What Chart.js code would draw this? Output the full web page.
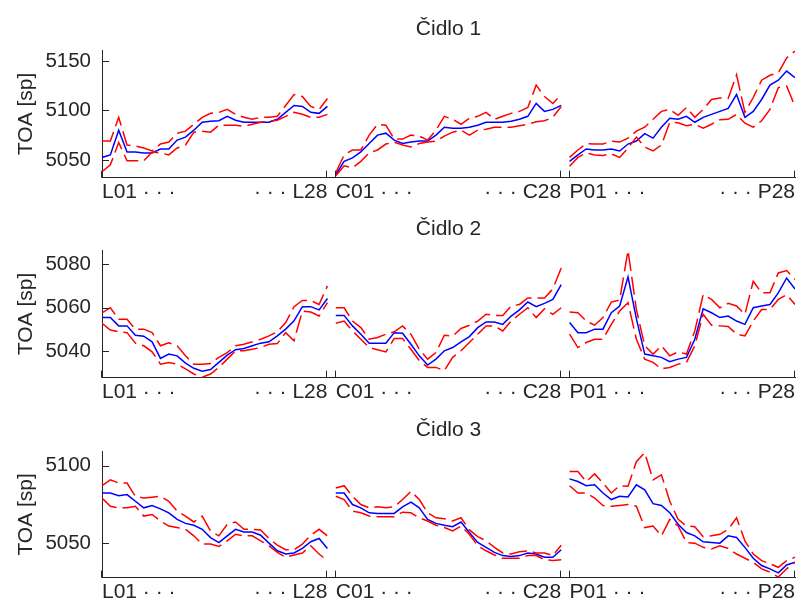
<!DOCTYPE html>
<html>
<head>
<meta charset="utf-8">
<script src="https://cdn.jsdelivr.net/npm/chart.js@4.4.1/dist/chart.umd.min.js"></script>
<style>
  html, body { margin: 0; padding: 0; background: #ffffff; }
  #wrap { position: relative; width: 797px; height: 601px; overflow: hidden; }
  .pane { position: absolute; left: 0; width: 797px; height: 201px; }
  .pane canvas { display: block; }
</style>
</head>
<body>
<div id="wrap">
  <div class="pane" style="top:0px"><canvas id="c1" width="797" height="201"></canvas></div>
  <div class="pane" style="top:200px"><canvas id="c2" width="797" height="201"></canvas></div>
  <div class="pane" style="top:400px"><canvas id="c3" width="797" height="201"></canvas></div>
</div>
<script>
// Measurement groups (28 positions each) and their tick labels
const groups = ['L', 'C', 'P'];
const groupSize = 28;
const startLabels = ['L01 \u00b7 \u00b7 \u00b7', 'C01 \u00b7 \u00b7 \u00b7', 'P01 \u00b7 \u00b7 \u00b7'];
const endLabels = ['\u00b7 \u00b7 \u00b7 L28', '\u00b7 \u00b7 \u00b7 C28', '\u00b7 \u00b7 \u00b7 P28'];
const xTickValues = [1, 28, 29, 56, 57, 84];

// Sensor titles, y ticks and y limits
const titles = ['\u010cidlo 1', '\u010cidlo 2', '\u010cidlo 3'];
const yAxisTitle = 'TOA [sp]';
const yTicks = [[5050, 5100, 5150], [5040, 5060, 5080], [5050, 5100]];
const yMin = [5032, 5028, 5028];
const yMax = [5161, 5086.4, 5109.4];

// Čidlo 1: mean and upper/lower bounds (L01..L28, C01..C28, P01..P28)
const s1Mean = [
  5052.5, 5055, 5080, 5058, 5058, 5057, 5057, 5061, 5061, 5070, 5073, 5080, 5088, 5089, 5089.5, 5094, 5090, 5088, 5088, 5088, 5088, 5091, 5098, 5105, 5104, 5098, 5097, 5104,
  5035, 5048.5, 5052, 5058, 5066.5, 5075, 5077, 5070, 5066.5, 5068, 5069, 5069, 5075, 5083, 5082, 5082, 5083, 5085, 5088, 5088, 5088, 5089, 5091, 5094, 5107, 5099, 5101, 5105,
  5048.5, 5055, 5061, 5060, 5060, 5061, 5059, 5066, 5069, 5076.5, 5072, 5083, 5092, 5091, 5094, 5088, 5093, 5096, 5099, 5102, 5116, 5093, 5099, 5111, 5125.5, 5130.5, 5139.7, 5133
];
const s1Upper = [
  5069, 5069, 5093, 5065, 5064, 5062, 5059, 5066, 5068, 5077, 5079, 5086, 5093, 5097, 5098, 5101, 5096, 5093, 5091, 5093, 5093, 5094, 5105, 5116, 5114, 5104, 5101, 5112,
  5037, 5055, 5060, 5060, 5075, 5086, 5085, 5071, 5071, 5075, 5074, 5070, 5080, 5094, 5091, 5086, 5092, 5094, 5098, 5091, 5094, 5097, 5099, 5103, 5125.5, 5114, 5107, 5116,
  5052.5, 5060, 5066.5, 5066, 5066, 5069, 5068, 5072, 5079, 5083, 5091, 5099, 5101, 5095, 5103, 5093, 5101, 5111, 5112.5, 5112, 5136, 5098, 5113, 5130.5, 5135.5, 5138, 5153, 5160
];
const s1Lower = [
  5038, 5045, 5067.5, 5049, 5049, 5049, 5058, 5057, 5055, 5062, 5065, 5078, 5079, 5078, 5085, 5085, 5085, 5084, 5086, 5088, 5089, 5090, 5094, 5098, 5096, 5093, 5093, 5096,
  5034, 5044, 5042, 5048.5, 5057, 5060, 5066, 5068, 5065, 5063, 5066.5, 5068, 5069, 5074, 5078, 5080, 5075, 5080, 5081, 5083, 5083, 5083, 5084.5, 5086, 5088.5, 5089.5, 5093, 5104,
  5043.6, 5052.5, 5057, 5055, 5054.5, 5056, 5052.5, 5062, 5073, 5063, 5059, 5065, 5088, 5087.5, 5084.5, 5086, 5082, 5086, 5090.5, 5091, 5096, 5087, 5083, 5089.5, 5101, 5123, 5124.6, 5104
];

// Čidlo 2
const s2Mean = [
  5055.5, 5055.5, 5051.7, 5051.7, 5047.4, 5047, 5044.4, 5036.8, 5038.8, 5038, 5034.7, 5032.3, 5031, 5031.7, 5035, 5038.3, 5040.8, 5041.4, 5042.6, 5043.8, 5044.4, 5047.1, 5050.2, 5054, 5060.5, 5060.5, 5059, 5064.2,
  5056.5, 5056.5, 5051.7, 5047.9, 5043.8, 5043.8, 5043.8, 5048.6, 5048.3, 5043.3, 5038, 5033.8, 5036.5, 5040.3, 5041.8, 5044.4, 5046.8, 5050.9, 5053.5, 5053.5, 5052.4, 5056.2, 5059, 5062.6, 5060.5, 5062, 5063.8, 5070.6,
  5053.2, 5048.6, 5048.6, 5050.2, 5050.2, 5057.7, 5060.8, 5074.1, 5055, 5038.8, 5038, 5037.3, 5035.3, 5036.5, 5037.3, 5045.6, 5059.5, 5057.7, 5055.5, 5056.2, 5053.9, 5052.4, 5060, 5060.8, 5061.5, 5066.8, 5073.6, 5068.6
];
const s2Upper = [
  5057.7, 5060, 5054.7, 5054.7, 5050.2, 5050.2, 5048.6, 5042.6, 5044, 5042.6, 5038, 5034.2, 5034.2, 5034.5, 5037.3, 5039.5, 5042.6, 5043.3, 5044.4, 5045.6, 5047.1, 5049, 5053.2, 5060.5, 5063.3, 5063.3, 5061.5, 5070,
  5060, 5060, 5053.9, 5050.9, 5045.6, 5046.4, 5047.9, 5049, 5051.7, 5047.9, 5041, 5036.5, 5039.5, 5047.4, 5047, 5050.5, 5052, 5053.9, 5057, 5056.5, 5056.5, 5060.8, 5061.5, 5064.5, 5064.5, 5064.5, 5068.6, 5078.2,
  5058, 5057.7, 5053.9, 5052, 5055.5, 5062.6, 5063.5, 5086.2, 5059.2, 5042.6, 5038.8, 5042.6, 5038, 5039.8, 5038.8, 5049.4, 5066, 5063.8, 5060, 5062, 5060.8, 5057, 5072.1, 5066.8, 5066.8, 5075.9, 5077, 5072.9
];
const s2Lower = [
  5052.9, 5049.8, 5049, 5048.6, 5043.8, 5042.6, 5039.8, 5034.2, 5035, 5034.2, 5032, 5029.7, 5028.2, 5029.7, 5032.7, 5036.5, 5040.3, 5040.3, 5041, 5041.8, 5043.3, 5043.6, 5048.6, 5044.9, 5058.5, 5058, 5056.2, 5062.3,
  5052.9, 5053.9, 5049.4, 5045.6, 5041.8, 5040.8, 5039.8, 5045.9, 5045.9, 5041, 5035.8, 5032.7, 5032.7, 5031.2, 5037.3, 5040.3, 5044.1, 5047.9, 5051.7, 5051.7, 5049.4, 5053.9, 5057, 5060, 5055.5, 5059.5, 5057, 5060,
  5047.9, 5041.8, 5044.1, 5045.6, 5045.6, 5052.4, 5058.5, 5062.3, 5045.6, 5036.5, 5035, 5032, 5032.7, 5034.2, 5035, 5042.6, 5057, 5052, 5051.7, 5051.4, 5047.9, 5047.1, 5053.9, 5059.2, 5059.2, 5063.8, 5066, 5061.5
];

// Čidlo 3
const s3Mean = [
  5082.4, 5082.4, 5080.7, 5081.4, 5077.1, 5072.9, 5074.4, 5072.2, 5069.7, 5065.5, 5062.9, 5061.7, 5059.1, 5053.8, 5050.6, 5054.9, 5059.1, 5057.4, 5057.4, 5055.3, 5050.2, 5045.3, 5043.2, 5043.9, 5046.8, 5051.1, 5053.2, 5046.8,
  5082.4, 5082.4, 5075, 5072.9, 5069.7, 5069.3, 5069.3, 5069.3, 5073.5, 5076.5, 5072.9, 5065.5, 5062.9, 5061.7, 5060.8, 5063.8, 5057, 5050.6, 5047.5, 5044.3, 5042.2, 5041.7, 5042.2, 5043.9, 5043.2, 5041.1, 5041.1, 5046,
  5091.5, 5089.8, 5087.1, 5087.7, 5082.4, 5078.2, 5080.3, 5079.9, 5087.7, 5084.5, 5075.6, 5074.4, 5069.7, 5062.3, 5057, 5054.9, 5051.1, 5050.6, 5050.2, 5054.9, 5053.8, 5047.5, 5040.5, 5035.8, 5033.7, 5031.1, 5036.2, 5037.9
];
const s3Upper = [
  5087.1, 5090.9, 5088.8, 5088.8, 5080.3, 5079.2, 5079.7, 5080.3, 5077.1, 5070.8, 5067.6, 5063.8, 5067.6, 5058, 5054.9, 5062.3, 5063.8, 5059.1, 5059.1, 5058.7, 5053.2, 5048.9, 5046, 5046, 5049.6, 5055.3, 5059.1, 5054.9,
  5085.6, 5087.1, 5080.3, 5075, 5072.9, 5073.5, 5072.9, 5073.5, 5078.2, 5083.5, 5078.2, 5069.7, 5066.5, 5065.9, 5064.4, 5066.5, 5058.7, 5054.4, 5051.7, 5047.5, 5043.9, 5043.2, 5044.7, 5045.3, 5043.9, 5043.9, 5042.2, 5048.9,
  5096.2, 5096.2, 5089.8, 5094.7, 5088.8, 5082.4, 5087.1, 5086.7, 5102.5, 5108.3, 5090.9, 5094.1, 5077.1, 5065.5, 5061.2, 5060.8, 5054.4, 5054.9, 5055.9, 5059.1, 5066.5, 5051.7, 5043.2, 5039, 5036.9, 5034.7, 5039, 5041.1
];
const s3Lower = [
  5079.2, 5073.9, 5072.9, 5072.9, 5073.9, 5067.6, 5068.6, 5064.4, 5061.2, 5060.2, 5059.1, 5054.9, 5049.6, 5049.6, 5048.1, 5051.7, 5055.9, 5054.9, 5054.9, 5051.7, 5048.5, 5044.3, 5041.1, 5042.6, 5043.9, 5048.5, 5043.2, 5039,
  5080.3, 5078.2, 5070.8, 5069.7, 5067.6, 5067.2, 5067.2, 5067.2, 5070.1, 5069.7, 5066.5, 5064.4, 5061.7, 5060.2, 5058, 5061.2, 5055.9, 5048.5, 5045.3, 5042.6, 5040.5, 5040.5, 5040.5, 5042.2, 5042.2, 5039.6, 5039, 5039.6,
  5087.1, 5082.4, 5082.4, 5079.2, 5074.4, 5073.9, 5074.4, 5075, 5073.9, 5060.2, 5061.2, 5054.9, 5065.5, 5061.2, 5050.6, 5050.2, 5047.5, 5046.4, 5048.5, 5046.8, 5043.2, 5040.5, 5037.9, 5033.7, 5031.6, 5028.4, 5033.7, 5037.9
];

const sensors = [
  { mean: s1Mean, upper: s1Upper, lower: s1Lower },
  { mean: s2Mean, upper: s2Upper, lower: s2Lower },
  { mean: s3Mean, upper: s3Upper, lower: s3Lower }
];

const INK = '#262626';
const FONT = '"Liberation Sans", Arial, Helvetica, sans-serif';
const BLUE = '#0000ff';
const RED = '#ff0000';

// Points of one group as {x, y}, x running 1..84 across the three groups
function groupPoints(values, g) {
  const pts = [];
  for (let i = 0; i < groupSize; i++) {
    pts.push({ x: g * groupSize + i + 1, y: values[g * groupSize + i] });
  }
  return pts;
}

function buildDatasets(s) {
  const ds = [];
  groups.forEach((name, g) => {
    ds.push({ label: name + ' mean', data: groupPoints(s.mean, g), borderColor: BLUE, borderWidth: 1.5, order: 2 });
    ds.push({ label: name + ' upper', data: groupPoints(s.upper, g), borderColor: RED, borderWidth: 1.5, borderDash: [18, 6], order: 1 });
    ds.push({ label: name + ' lower', data: groupPoints(s.lower, g), borderColor: RED, borderWidth: 1.5, borderDash: [18, 6], order: 1 });
  });
  return ds;
}

// Title, rotated y title, inward tick marks and group labels under the x axis
const decorations = {
  id: 'decorations',
  afterDraw(chart, args, opts) {
    const { ctx, chartArea: a, scales: { x, y } } = chart;
    ctx.save();
    ctx.strokeStyle = INK;
    ctx.lineWidth = 1;
    ctx.beginPath();
    y.ticks.forEach(t => {
      const py = Math.round(y.getPixelForValue(t.value)) + 0.5;
      ctx.moveTo(a.left, py);
      ctx.lineTo(a.left + 7, py);
    });
    xTickValues.forEach(v => {
      const px = Math.round(x.getPixelForValue(v)) - 0.5;
      ctx.moveTo(px, a.bottom);
      ctx.lineTo(px, a.bottom - 7);
    });
    ctx.stroke();

    ctx.fillStyle = INK;
    ctx.font = '21px ' + FONT;
    ctx.textBaseline = 'alphabetic';

    // title
    ctx.textAlign = 'center';
    ctx.fillText(opts.title, (a.left + a.right) / 2, a.top - 15);

    // group labels
    groups.forEach((name, g) => {
      ctx.textAlign = 'left';
      ctx.fillText(startLabels[g], x.getPixelForValue(g * groupSize + 1), a.bottom + 20);
      ctx.textAlign = 'right';
      ctx.fillText(endLabels[g], x.getPixelForValue(g * groupSize + groupSize), a.bottom + 20);
    });

    // y axis title
    ctx.translate(a.left - 70, (a.top + a.bottom) / 2);
    ctx.rotate(-Math.PI / 2);
    ctx.textAlign = 'center';
    ctx.fillText(yAxisTitle, 0, 0);
    ctx.restore();
  }
};

const topPad = [50, 50, 51];

sensors.forEach((s, k) => {
  new Chart(document.getElementById('c' + (k + 1)), {
    type: 'line',
    data: { datasets: buildDatasets(s) },
    options: {
      responsive: false,
      animation: false,
      events: [],
      layout: { padding: { top: topPad[k], right: 2, bottom: 0, left: 0 } },
      elements: { point: { radius: 0 }, line: { tension: 0, borderCapStyle: 'butt' } },
      plugins: {
        legend: { display: false },
        tooltip: { enabled: false },
        decorations: { title: titles[k] }
      },
      scales: {
        x: {
          type: 'linear',
          min: 1,
          max: groups.length * groupSize,
          grid: { display: false, drawTicks: false },
          border: { display: true, color: INK, width: 1 },
          ticks: { display: false },
          afterFit(scale) { scale.height = 22; }
        },
        y: {
          min: yMin[k],
          max: yMax[k],
          grid: { display: false, drawTicks: false },
          border: { display: true, color: INK, width: 1 },
          afterBuildTicks(scale) { scale.ticks = yTicks[k].map(v => ({ value: v })); },
          ticks: {
            padding: 11,
            color: INK,
            font: { family: FONT, size: 20.5 },
            callback: v => String(v)
          },
          afterFit(scale) { scale.width = 102; }
        }
      }
    },
    plugins: [decorations]
  });
});
</script>
</body>
</html>
